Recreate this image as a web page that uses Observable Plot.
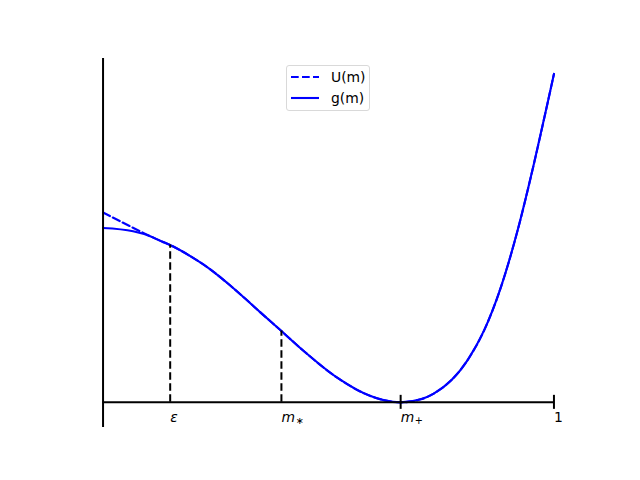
<!DOCTYPE html>
<html><head><meta charset="utf-8">
<script src="https://cdn.jsdelivr.net/npm/d3@7"></script>
<script src="https://cdn.jsdelivr.net/npm/@observablehq/plot@0.6"></script>
<style>
body{margin:0;background:#fff;font-family:"DejaVu Sans",sans-serif;}
#wrap{position:relative;width:640px;height:480px;}
#wrap svg{overflow:visible;}
.legend{position:absolute;left:286px;top:65px;width:82px;height:44px;border:1px solid #d9d9d9;border-radius:3px;background:rgba(255,255,255,0.8);font-family:"DejaVu Sans";font-size:13.9px;color:#000;}
.row{position:absolute;left:0;height:20px;width:82px;}
.row svg{position:absolute;left:3px;top:0;}
.row span{position:absolute;left:44px;top:1px;line-height:18px;}
</style></head>
<body><div id="wrap"></div>
<script>
// g(m)
const gX = [0, 0.0667, 0.1044, 0.1267, 0.1489, 0.2007, 0.2378, 0.2749, 0.3118, 0.3489, 0.3956, 0.4444, 0.5193, 0.5933, 0.6222, 0.66, 0.7044, 0.7333, 0.8082, 0.8451, 0.8822, 0.9193, 0.9562, 0.986, 1.0];
const gY = [0.531, 0.521, 0.506, 0.492, 0.479, 0.439, 0.405, 0.364, 0.320, 0.274, 0.217, 0.157, 0.075, 0.019, 0.0068, 0.0, 0.0091, 0.0264, 0.128, 0.219, 0.350, 0.523, 0.730, 0.912, 1.0];
// U(m): straight part before it merges with g
const uHeadX = [0, 0.05, 0.1044];
const uHeadY = [0.578, 0.543, 0.506];
// marked positions
const markX = [0.1489, 0.3956];
const markY = [0.479, 0.217];
// tick labels
const tickPos = [0.1489, 0.3956, 0.66, 1];
const tickBase = ["ε", "m", "m", "1"];
const tickSub = ["", "∗", "+", ""];
const tickMarks = [0.66, 1];

const g = gX.map((x, i) => ({x, y: gY[i]}));
const U = uHeadX.map((x, i) => ({x, y: uHeadY[i]})).concat(g.filter(d => d.x > uHeadX[uHeadX.length - 1]));
const marks = markX.map((x, i) => ({x, y: markY[i]}));
const ticks = tickPos.map((x, i) => ({x, base: tickBase[i], sub: tickSub[i]}));
const isNum = d => !isNaN(+d.base);

const chart = Plot.plot({
  width: 640, height: 480,
  marginLeft: 80, marginRight: 64, marginTop: 58, marginBottom: 53,
  x: {domain: [-0.05, 1.05], axis: null},
  y: {domain: [-0.0766, 1.047], axis: null},
  style: {fontFamily: "DejaVu Sans", background: "white"},
  marks: [
    Plot.line(U, {x: "x", y: "y", stroke: "#0000ff", strokeWidth: 2.1, strokeDasharray: "7.7,3.3", curve: "monotone-x"}),
    Plot.line(g, {x: "x", y: "y", stroke: "#0000ff", strokeWidth: 2.1, curve: "monotone-x"}),
    Plot.ruleX(marks, {x: "x", y1: 0, y2: "y", stroke: "black", strokeWidth: 2, strokeDasharray: "7.7,3.3"}),
    Plot.ruleX([0], {stroke: "black", strokeWidth: 2}),
    Plot.ruleY([0], {x1: 0, x2: 1, stroke: "black", strokeWidth: 2}),
    Plot.ruleX(tickMarks, {y1: 0, y2: 0, insetTop: -7, insetBottom: -7, stroke: "black", strokeWidth: 2}),
    Plot.text(ticks.filter(d => !isNum(d)), {x: "x", y: 0, text: "base", textAnchor: "start", lineAnchor: "bottom", dy: 20, fontSize: 13.9, fontStyle: "italic", fill: "black"}),
    Plot.text(ticks.filter(d => d.sub), {x: "x", y: 0, text: "sub", textAnchor: "start", lineAnchor: "bottom", dx: 14, dy: 22, fontSize: 9.7, fill: "black"}),
    Plot.text(ticks.filter(isNum), {x: "x", y: 0, text: "base", textAnchor: "start", lineAnchor: "bottom", dy: 20, fontSize: 13.9, fill: "black"})
  ]
});
const wrap = document.getElementById("wrap");
wrap.appendChild(chart);

const legend = document.createElement("div");
legend.className = "legend";
legend.innerHTML = `
<div class="row" style="top:1px"><svg width="32" height="20"><line x1="1" x2="29" y1="10" y2="10" stroke="#0000ff" stroke-width="2.1" stroke-dasharray="7.7,3.3"/></svg><span>U(m)</span></div>
<div class="row" style="top:22px"><svg width="32" height="20"><line x1="1" x2="29" y1="10" y2="10" stroke="#0000ff" stroke-width="2.1"/></svg><span>g(m)</span></div>`;
wrap.appendChild(legend);
</script>
</body></html>
